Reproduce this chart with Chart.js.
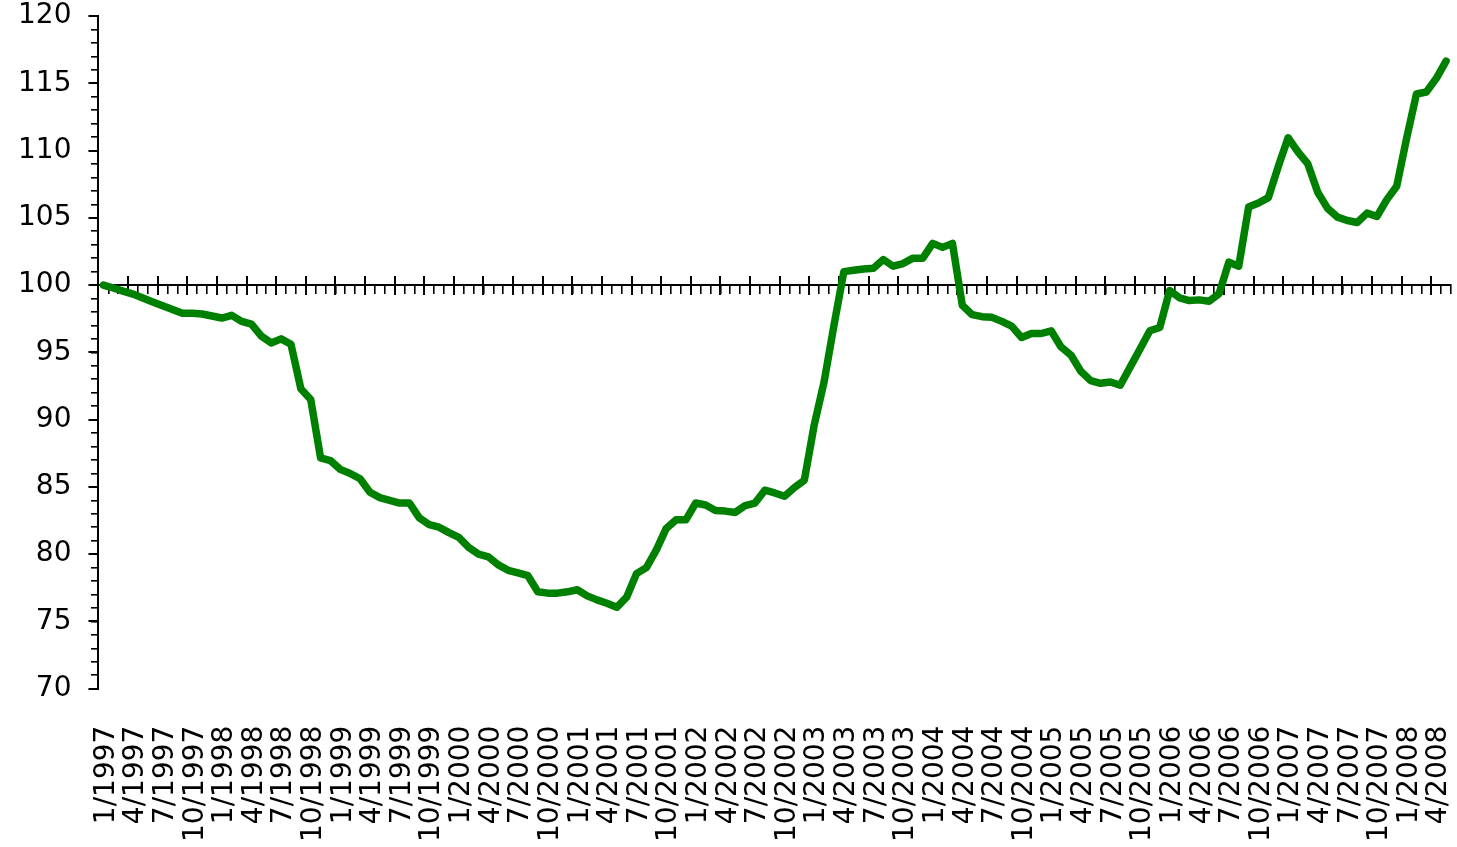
<!DOCTYPE html>
<html>
<head>
<meta charset="utf-8">
<title>Index, 1/1997 = 100</title>
<script src="https://cdn.jsdelivr.net/npm/chart.js@4.4.1/dist/chart.umd.min.js"></script>
<style>
  html, body { margin: 0; padding: 0; background: #fff; }
  #wrap { width: 1457px; height: 847px; position: relative; }
</style>
</head>
<body>
<div id="wrap"><canvas id="lineChart"></canvas></div>
<script>
// monthly index values, 1/1997 .. 5/2008 (1/1997 = 100)
const values = [
  100, 99.78, 99.55, 99.33, 99.04, 98.75, 98.47, 98.18, 97.9, 97.9, 97.85, 97.7,
  97.55, 97.75, 97.3, 97.1, 96.2, 95.7, 96.0, 95.6, 92.3, 91.5, 87.15, 86.95,
  86.3, 86.0, 85.6, 84.6, 84.2, 84.0, 83.8, 83.8, 82.7, 82.2, 82.0, 81.6,
  81.25, 80.5, 80.0, 79.8, 79.2, 78.8, 78.6, 78.4, 77.2, 77.1, 77.1, 77.2,
  77.35, 76.9, 76.6, 76.35, 76.05, 76.8, 78.55, 79.0, 80.3, 81.9, 82.55, 82.55,
  83.8, 83.65, 83.25, 83.2, 83.1, 83.6, 83.8, 84.75, 84.55, 84.3, 84.95, 85.5,
  89.6, 92.8, 97.0, 101.0, 101.1, 101.2, 101.25, 101.9, 101.4, 101.6, 102.0, 102.0,
  103.1, 102.8, 103.1, 98.5, 97.8, 97.65, 97.6, 97.3, 96.95, 96.1, 96.4, 96.4,
  96.6, 95.4, 94.8, 93.6, 92.9, 92.7, 92.8, 92.55, 93.9, 95.25, 96.6, 96.85,
  99.6, 99.05, 98.85, 98.9, 98.8, 99.35, 101.7, 101.4, 105.8, 106.1, 106.5, 108.8,
  110.95, 109.9, 109.0, 106.9, 105.7, 105.05, 104.8, 104.65, 105.35, 105.1, 106.35, 107.35,
  110.9, 114.2, 114.35, 115.35, 116.65
];

// category labels, one every 3 months
const tickLabels = [
  "1/1997", "4/1997", "7/1997", "10/1997",
  "1/1998", "4/1998", "7/1998", "10/1998",
  "1/1999", "4/1999", "7/1999", "10/1999",
  "1/2000", "4/2000", "7/2000", "10/2000",
  "1/2001", "4/2001", "7/2001", "10/2001",
  "1/2002", "4/2002", "7/2002", "10/2002",
  "1/2003", "4/2003", "7/2003", "10/2003",
  "1/2004", "4/2004", "7/2004", "10/2004",
  "1/2005", "4/2005", "7/2005", "10/2005",
  "1/2006", "4/2006", "7/2006", "10/2006",
  "1/2007", "4/2007", "7/2007", "10/2007",
  "1/2008", "4/2008"
];

const labelStep = 3;
const yMin = 70;
const yMax = 120;
const yMajor = 5;
const baseLine = 100;

const axisFont = { family: "'DejaVu Sans', Verdana, sans-serif", size: 28 };
const xMin = -0.5;
const xMax = values.length - 0.5;

// tick marks sit on the category boundaries, like the original
const minorBounds = values.map((v, i) => i + 0.5);
const majorBounds = minorBounds.filter((b, i) => (i + 1) % labelStep === 0 && i + 1 < values.length);

// labels may hang over the plot edges, don't let them shrink the plot
const noEdgePadding = (scale) => {
  scale.paddingLeft = 0;
  scale.paddingRight = 0;
  scale.paddingTop = 0;
  scale.paddingBottom = 0;
};

new Chart(document.getElementById("lineChart"), {
  type: "line",
  data: {
    datasets: [{
      data: values.map((v, i) => ({ x: i, y: v })),
      borderColor: "#008000",
      borderWidth: 7.5,
      borderJoinStyle: "round",
      borderCapStyle: "round",
      pointRadius: 0,
      tension: 0,
      fill: false
    }]
  },
  options: {
    responsive: true,
    maintainAspectRatio: false,
    animation: false,
    layout: { padding: { left: 1, right: 6, top: 16, bottom: 5 } },
    plugins: { legend: { display: false }, tooltip: { enabled: false } },
    scales: {
      x: {
        type: "linear",
        position: "bottom",
        min: xMin,
        max: xMax,
        afterBuildTicks: (scale) => {
          scale.ticks = tickLabels.map((t, k) => ({ value: k * labelStep }));
        },
        afterFit: noEdgePadding,
        ticks: {
          autoSkip: false,
          maxRotation: 90,
          minRotation: 90,
          padding: 0,
          labelOffset: 3,
          color: "#000",
          font: axisFont,
          callback: (v, i) => tickLabels[i]
        },
        // hidden tick marks only keep the labels away from the plot
        grid: { display: false, drawTicks: true, tickLength: 37 },
        border: { display: false }
      },
      xMinor: {
        type: "linear",
        position: { y: baseLine },
        min: xMin,
        max: xMax,
        afterBuildTicks: (scale) => {
          scale.ticks = minorBounds.map((b) => ({ value: b }));
        },
        afterFit: noEdgePadding,
        ticks: { display: false },
        grid: { drawOnChartArea: false, tickLength: 8, color: "#000", lineWidth: 1.6 },
        border: { display: true, color: "#000", width: 2 }
      },
      xMajor: {
        type: "linear",
        position: { y: baseLine + 0.7 },
        min: xMin,
        max: xMax,
        afterBuildTicks: (scale) => {
          scale.ticks = majorBounds.map((b) => ({ value: b }));
        },
        afterFit: noEdgePadding,
        ticks: { display: false },
        grid: { drawOnChartArea: false, tickLength: 19, color: "#000", lineWidth: 2 },
        border: { display: false }
      },
      y: {
        position: "left",
        min: yMin,
        max: yMax,
        afterFit: noEdgePadding,
        ticks: { stepSize: yMajor, padding: 17, color: "#000", font: axisFont },
        grid: { drawOnChartArea: false, tickLength: 10, color: "#000", lineWidth: 2 },
        border: { color: "#000", width: 2 }
      },
      yMinor: {
        position: { x: xMin },
        min: yMin,
        max: yMax,
        afterFit: noEdgePadding,
        ticks: { stepSize: 1, display: false },
        grid: { drawOnChartArea: false, tickLength: 7, color: "#000", lineWidth: 1.6 },
        border: { display: false }
      }
    }
  }
});
</script>
</body>
</html>
